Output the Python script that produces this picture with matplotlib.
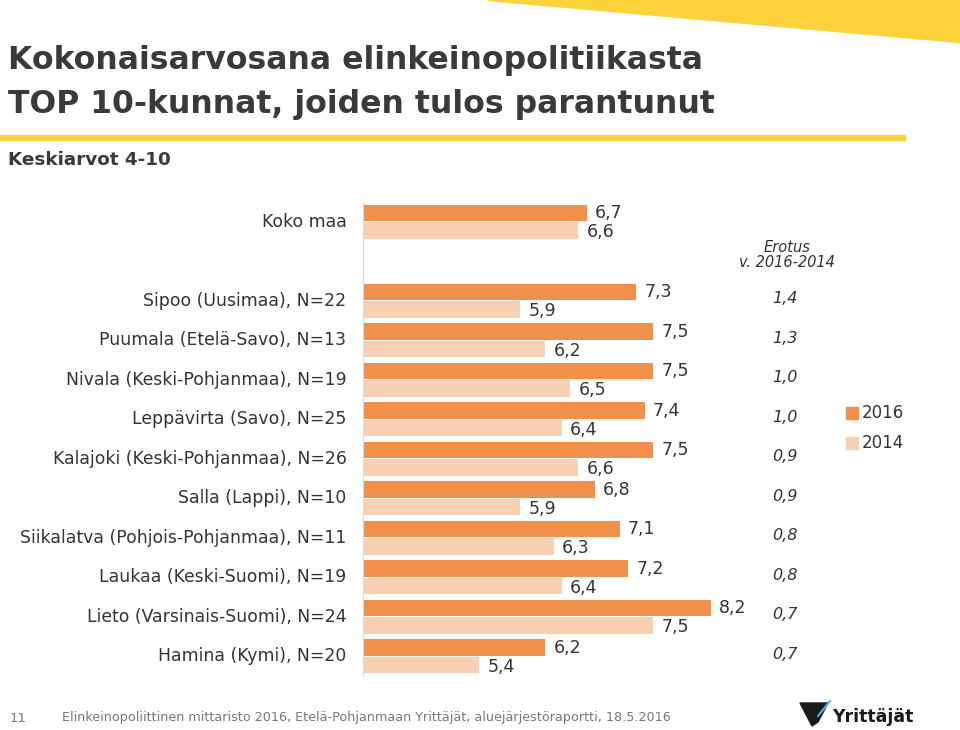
import matplotlib
matplotlib.use("Agg")
import matplotlib.pyplot as plt
from matplotlib.patches import Polygon, Rectangle
import numpy as np

# data
categories = ["Koko maa", "",
              "Sipoo (Uusimaa), N=22",
              "Puumala (Etelä-Savo), N=13",
              "Nivala (Keski-Pohjanmaa), N=19",
              "Leppävirta (Savo), N=25",
              "Kalajoki (Keski-Pohjanmaa), N=26",
              "Salla (Lappi), N=10",
              "Siikalatva (Pohjois-Pohjanmaa), N=11",
              "Laukaa (Keski-Suomi), N=19",
              "Lieto (Varsinais-Suomi), N=24",
              "Hamina (Kymi), N=20"]
v2016 = [6.7, None, 7.3, 7.5, 7.5, 7.4, 7.5, 6.8, 7.1, 7.2, 8.2, 6.2]
v2014 = [6.6, None, 5.9, 6.2, 6.5, 6.4, 6.6, 5.9, 6.3, 6.4, 7.5, 5.4]
erotus = ["", "", "1,4", "1,3", "1,0", "1,0", "0,9", "0,9", "0,8", "0,8", "0,7", "0,7"]

c2016 = "#F0904B"
c2014 = "#F8D0B3"
txt = "#333333"

plt.rcParams['font.family'] = ['DejaVu Sans']
fig = plt.figure(figsize=(9.6, 7.3), dpi=100)

# yellow decorations
fig.patches.append(Polygon([[488 / 960, 1], [1, 1], [1, 1 - 42 / 730]], closed=True,
                           transform=fig.transFigure, color="#FDD23A", zorder=0))
fig.patches.append(Rectangle((0, 1 - 140 / 730), 905 / 960, 5 / 730,
                             transform=fig.transFigure, color="#FDD23A", zorder=0))

fig.text(8 / 960, 1 - 60 / 730, "Kokonaisarvosana elinkeinopolitiikasta", fontsize=22.7,
         fontweight="bold", color="#3a3a3a", va="center")
fig.text(8 / 960, 1 - 104 / 730, "TOP 10-kunnat, joiden tulos parantunut", fontsize=22.7,
         fontweight="bold", color="#3a3a3a", va="center")
fig.text(8 / 960, 1 - 160 / 730, "Keskiarvot 4-10", fontsize=13.2, fontweight="bold",
         color="#3a3a3a", va="center")

# bar area
ax = fig.add_axes([363 / 960, 1 - 676 / 730, (860 - 363) / 960, 474 / 730])
ax.set_xlim(4, 10)
ax.set_ylim(11.5, -0.5)

y = np.arange(len(categories))
off = 0.22
h = 0.42
for i in range(len(categories)):
    if v2016[i] is None:
        continue
    ax.barh(y[i] - off, v2016[i] - 4, left=4, height=h, color=c2016)
    ax.barh(y[i] + off, v2014[i] - 4, left=4, height=h, color=c2014)
    ax.text(v2016[i] + 0.1, y[i] - off, f"{v2016[i]:.1f}".replace(".", ","),
            fontsize=12.5, color=txt, va="center", ha="left")
    ax.text(v2014[i] + 0.1, y[i] + off + 0.05, f"{v2014[i]:.1f}".replace(".", ","),
            fontsize=12.5, color=txt, va="center", ha="left")
    ax.text(3.8, y[i], categories[i], fontsize=12.4, color=txt, va="center", ha="right")
    if erotus[i]:
        ax.text(9.09, y[i] - 0.05, erotus[i], fontsize=11.5, style="italic",
                color=txt, va="center", ha="center")

ax.text(9.12, 0.84, "Erotus\nv. 2016-2014", fontsize=10.5, style="italic",
        color=txt, va="center", ha="center", linespacing=1.0)

for s in ["top", "right", "bottom"]:
    ax.spines[s].set_visible(False)
ax.spines["left"].set_color("#D9D9D9")
ax.set_xticks([])
ax.set_yticks([])

# legend
fig.patches.append(Rectangle((846 / 960, 1 - 419 / 730), 12 / 960, 12 / 730,
                             transform=fig.transFigure, color=c2016))
fig.patches.append(Rectangle((846 / 960, 1 - 449 / 730), 12 / 960, 12 / 730,
                             transform=fig.transFigure, color=c2014))
fig.text(862 / 960, 1 - 413 / 730, "2016", fontsize=12, color=txt, va="center")
fig.text(862 / 960, 1 - 443 / 730, "2014", fontsize=12, color=txt, va="center")

# footer
fig.text(10 / 960, 1 - 718 / 730, "11", fontsize=9.5, color="#777777", va="center")
fig.text(62 / 960, 1 - 718 / 730,
         "Elinkeinopoliittinen mittaristo 2016, Etelä-Pohjanmaan Yrittäjät, aluejärjestöraportti, 18.5.2016",
         fontsize=9.2, color="#777777", va="center")
fig.patches.append(Polygon([[800 / 960, 1 - 703 / 730], [828 / 960, 1 - 703 / 730],
                            [818 / 960, 1 - 722 / 730], [812 / 960, 1 - 726 / 730]],
                           closed=True, transform=fig.transFigure, color="#1a1a1a"))
fig.add_artist(plt.Line2D([818 / 960, 830 / 960], [1 - 716 / 730, 1 - 701 / 730],
                          transform=fig.transFigure, color="#4FB3E0", lw=1.5))
fig.text(832 / 960, 1 - 717 / 730, "Yrittäjät", fontsize=12.5, fontweight="bold",
         color="#1a1a1a", va="center")

fig.savefig("out.png", dpi=100)
